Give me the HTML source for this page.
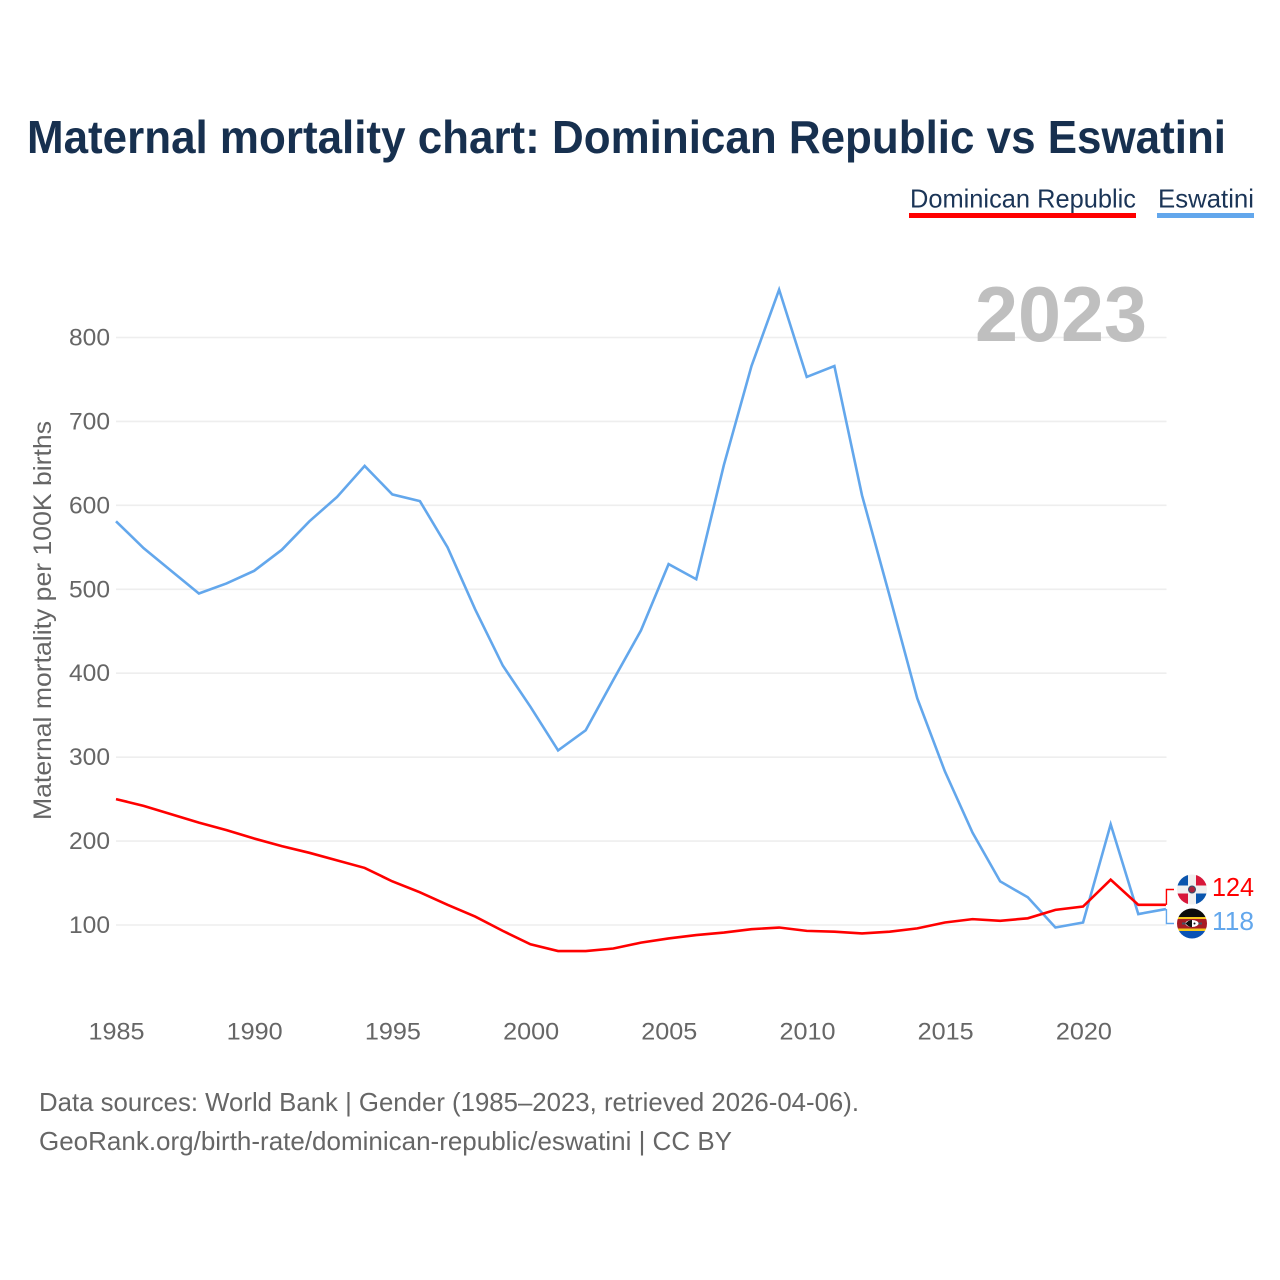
<!DOCTYPE html>
<html lang="en">
<head>
<meta charset="utf-8">
<title>Maternal mortality chart: Dominican Republic vs Eswatini</title>
<style>
html,body{margin:0;padding:0;background:#fff;width:1280px;height:1280px;overflow:hidden}
svg{display:block}
text{font-family:"Liberation Sans",sans-serif}
</style>
</head>
<body>
<svg id="chart" xmlns="http://www.w3.org/2000/svg" width="1280" height="1280" viewBox="0 0 1280 1280">
  <defs>
    <clipPath id="clip-flag-dr"><circle cx="1192" cy="889.500" r="15"/></clipPath>
    <clipPath id="clip-flag-sz"><circle cx="1192" cy="923.500" r="15"/></clipPath>
  </defs>
  <rect x="0" y="0" width="1280" height="1280" fill="#ffffff"/>
  <text x="27" y="153" font-size="46" font-weight="700" fill="#17304f" textLength="1199" lengthAdjust="spacingAndGlyphs">Maternal mortality chart: Dominican Republic vs Eswatini</text>

  <g>
    <g>
      <text x="910" y="207.500" font-size="26" fill="#1b3557" textLength="226" lengthAdjust="spacingAndGlyphs">Dominican Republic</text>
      <rect x="909" y="213" width="227" height="5" fill="#ff0000"/>
    </g>
    <g>
      <text x="1158" y="207.500" font-size="26" fill="#1b3557" textLength="96" lengthAdjust="spacingAndGlyphs">Eswatini</text>
      <rect x="1157" y="213" width="97" height="5" fill="#63a7ec"/>
    </g>
  </g>

  <g id="grid"></g>
  <text x="975" y="341" font-size="78" font-weight="700" fill="#bfbfbf" textLength="172" lengthAdjust="spacingAndGlyphs">2023</text>
  <g id="y-ticks"></g>
  <g id="x-ticks"></g>
  <text transform="translate(51,820) rotate(-90)" x="0" y="0" font-size="25" fill="#666666" textLength="399" lengthAdjust="spacingAndGlyphs">Maternal mortality per 100K births</text>
  <g id="series"></g>

  <g clip-path="url(#clip-flag-dr)">
    <rect x="1177" y="874" width="30" height="31" fill="#f0f0f0"/>
    <rect x="1177" y="874" width="11" height="11.500" fill="#0a55ad"/>
    <rect x="1196" y="893.500" width="11" height="11.500" fill="#0a55ad"/>
    <rect x="1196" y="874" width="11" height="11.500" fill="#d8173a"/>
    <rect x="1177" y="893.500" width="11" height="11.500" fill="#d8173a"/>
    <circle cx="1192" cy="889.500" r="3.500" fill="#a8243c" stroke="#33506e" stroke-width="1"/>
  </g>
  <g clip-path="url(#clip-flag-sz)">
    <rect x="1177" y="908" width="30" height="9" fill="#0c0c0c"/>
    <rect x="1177" y="917" width="30" height="2" fill="#f2c81e"/>
    <rect x="1177" y="919" width="30" height="9.500" fill="#a81c24"/>
    <rect x="1177" y="928.500" width="30" height="2.500" fill="#f2c81e"/>
    <rect x="1177" y="931" width="30" height="8" fill="#0a52b5"/>
    <rect x="1182" y="922.500" width="20" height="2" fill="#445566"/>
    <ellipse cx="1192" cy="923.500" rx="6.500" ry="3.500" fill="#ffffff"/>
    <path d="M1185.500 923.500 Q1189 919.500 1192 920 L1192 927 Q1189 927.500 1185.500 923.500Z" fill="#111111"/>
    <circle cx="1194.500" cy="923.500" r="1" fill="#111111"/>
  </g>
  <g id="end-labels"></g>

  <g>
    <text x="39" y="1111" font-size="26" fill="#666666" textLength="820" lengthAdjust="spacingAndGlyphs">Data sources: World Bank | Gender (1985–2023, retrieved 2026-04-06).</text>
    <text x="39" y="1150" font-size="26" fill="#666666" textLength="693" lengthAdjust="spacingAndGlyphs">GeoRank.org/birth-rate/dominican-republic/eswatini | CC BY</text>
  </g>
</svg>
<script>
var years = [1985,1986,1987,1988,1989,1990,1991,1992,1993,1994,1995,1996,1997,1998,1999,2000,2001,2002,2003,2004,2005,2006,2007,2008,2009,2010,2011,2012,2013,2014,2015,2016,2017,2018,2019,2020,2021,2022,2023];
var eswatini = [581,549,522,495,507,522,547,581,610,647,613,605,550,476,409,360,308,332,392,451,530,512,648,766,857,753,766,612,492,370,283,210,152,133,97,103,220,113,119];
var dominicanRepublic = [250,242,232,222,213,203,194,186,177,168,152,139,124,110,93,77,69,69,72,79,84,88,91,95,97,93,92,90,92,96,103,107,105,108,118,122,154,124,124];
var yTickValues = [100,200,300,400,500,600,700,800];
var xTickValues = [1985,1990,1995,2000,2005,2010,2015,2020];
var printedDominicanRepublic = "124";
var printedEswatini = "118";

var NS = 'http://www.w3.org/2000/svg';
function xScale(year) { return 116 + (year - 1985) * 27.63; }
function yScale(value) { return 925 - (value - 100) * (925 - 337.5) / 700; }
function labelX(year) { return 116.5 + (year - 1985) * 27.64; }
function make(parent, tag, attrs) {
  var el = document.createElementNS(NS, tag);
  for (var k in attrs) { el.setAttribute(k, attrs[k]); }
  parent.appendChild(el);
  return el;
}

var gridGroup = document.getElementById('grid');
var yTickGroup = document.getElementById('y-ticks');
yTickValues.forEach(function (v) {
  var line = make(gridGroup, 'line', { x1: 116, x2: 1166.5, y1: yScale(v), y2: yScale(v), stroke: '#eeeeee', 'stroke-width': 1.6 });
  
  
  var label = make(yTickGroup, 'text', { x: 110, y: yScale(v) + 8, 'text-anchor': 'end', 'font-size': 24, fill: '#666666', textLength: 41, lengthAdjust: 'spacingAndGlyphs' });
  
  
  label.textContent = String(v);
});

var xTickGroup = document.getElementById('x-ticks');
xTickValues.forEach(function (y) {
  var label = make(xTickGroup, 'text', { x: labelX(y), y: 1039.5, 'text-anchor': 'middle', 'font-size': 24, fill: '#666666', textLength: 56, lengthAdjust: 'spacingAndGlyphs' });
  
  
  label.textContent = String(y);
});

function pointsFor(values) {
  return values.map(function (v, i) { return xScale(years[i]).toFixed(2) + ',' + yScale(v).toFixed(2); }).join(' ');
}
var seriesGroup = document.getElementById('series');

var lineEswatini = make(seriesGroup, 'polyline', { points: pointsFor(eswatini), fill: 'none', stroke: '#63a7ec', 'stroke-width': 2.6, 'stroke-linejoin': 'miter' });



var lineDominican = make(seriesGroup, 'polyline', { points: pointsFor(dominicanRepublic), fill: 'none', stroke: '#ff0000', 'stroke-width': 2.6, 'stroke-linejoin': 'miter' });



var endX = xScale(years[years.length - 1]) + 0.5;
var connectorDominican = make(seriesGroup, 'polyline', { points: endX + ',' + yScale(dominicanRepublic[dominicanRepublic.length - 1]) + ' ' + endX + ',889.5 1174,889.5', fill: 'none', stroke: '#ff0000', 'stroke-width': 1.4 });



var connectorEswatini = make(seriesGroup, 'polyline', { points: endX + ',' + yScale(eswatini[eswatini.length - 1]) + ' ' + endX + ',923.5 1174,923.5', fill: 'none', stroke: '#63a7ec', 'stroke-width': 1.4 });



var endGroup = document.getElementById('end-labels');
var endDominican = make(endGroup, 'text', { x: 1212, y: 896, 'font-size': 25.5, fill: '#ff0000', textLength: 42, lengthAdjust: 'spacingAndGlyphs' });


endDominican.textContent = printedDominicanRepublic;

var endEswatini = make(endGroup, 'text', { x: 1212, y: 930, 'font-size': 25.5, fill: '#63a7ec', textLength: 42, lengthAdjust: 'spacingAndGlyphs' });


endEswatini.textContent = printedEswatini;
</script>
</body>
</html>
